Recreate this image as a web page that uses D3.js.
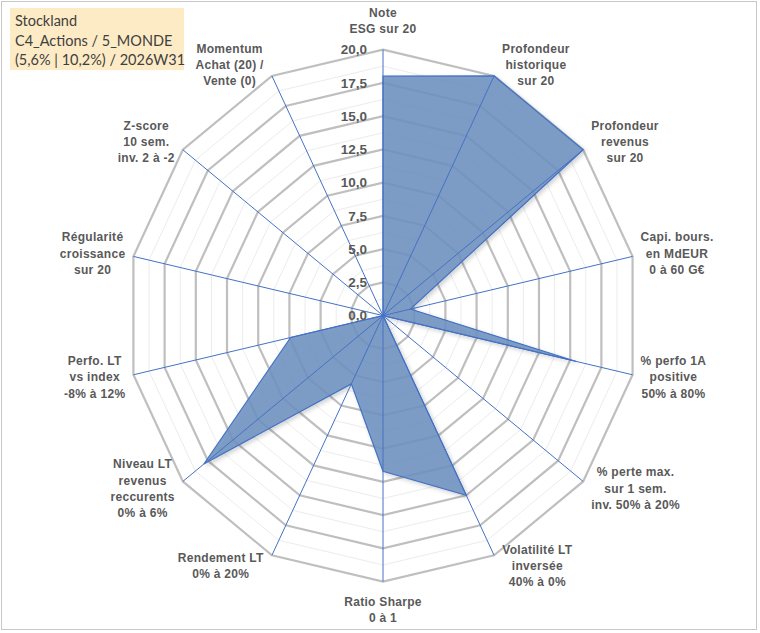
<!DOCTYPE html>
<html><head><meta charset="utf-8">
<script src="https://cdn.jsdelivr.net/npm/d3@7"></script>
<style>
html,body{margin:0;padding:0;background:#fff;}
svg{display:block;}
</style></head>
<body>
<svg id="chart" width="760" height="633"></svg>
<script>
// ---- data ----
const titleLines = ["Stockland", "C4_Actions / 5_MONDE", "(5,6% | 10,2%) / 2026W31"];
const categories = [
  ["Note", "ESG sur 20"],
  ["Profondeur", "historique", "sur 20"],
  ["Profondeur", "revenus", "sur 20"],
  ["Capi. bours.", "en MdEUR", "0 à 60 G€"],
  ["% perfo 1A", "positive", "50% à 80%"],
  ["% perte max.", "sur 1 sem.", "inv. 50% à 20%"],
  ["Volatilité LT", "inversée", "40% à 0%"],
  ["Ratio Sharpe", "0 à 1"],
  ["Rendement LT", "0% à 20%"],
  ["Niveau LT", "revenus", "reccurents", "0% à 6%"],
  ["Perfo. LT", "vs index", "-8% à 12%"],
  ["Régularité", "croissance", "sur 20"],
  ["Z-score", "10 sem.", "inv. 2 à -2"],
  ["Momentum", "Achat (20) /", "Vente (0)"]
];
const values = [18, 20, 20, 2.2, 15.5, 0, 15, 11.7, 5.7, 17.9, 7.4, 0, 0, 0];
const majorTicks = [0, 2.5, 5, 7.5, 10, 12.5, 15, 17.5, 20];
const tickLabels = ["0,0", "2,5", "5,0", "7,5", "10,0", "12,5", "15,0", "17,5", "20,0"];
const minorTicks = [1.25, 3.75, 6.25, 8.75, 11.25, 13.75, 16.25, 18.75];

// ---- layout ----
const svg = d3.select("#chart");
const cx = 383, cy = 315.6;
const rx = d3.scaleLinear().domain([0, 20]).range([0, 256]);
const ry = d3.scaleLinear().domain([0, 20]).range([0, 266]);
const n = categories.length;
const ang = d3.scaleLinear().domain([0, n]).range([0, 2 * Math.PI]);
const pt = (i, v) => [cx + rx(v) * Math.sin(ang(i)), cy - ry(v) * Math.cos(ang(i))];

// frame
svg.append("rect").attr("x", 1.5).attr("y", 1.5).attr("width", 755).attr("height", 628)
  .attr("fill", "#fff").attr("stroke", "#c8c8c8").attr("stroke-width", 1);

const defs = svg.append("defs");
const f = defs.append("filter").attr("id", "sh").attr("x", "-10%").attr("y", "-10%").attr("width", "130%").attr("height", "130%");
f.append("feDropShadow").attr("dx", 2).attr("dy", 2).attr("stdDeviation", 2).attr("flood-color", "#000").attr("flood-opacity", 0.2);

const ring = v => d3.range(n).map(i => pt(i, v));
const line = d3.line().curve(d3.curveLinearClosed);

// minor grid
svg.append("g").selectAll("path").data(minorTicks).join("path")
  .attr("d", v => line(ring(v))).attr("fill", "none")
  .attr("stroke", "#ececec").attr("stroke-width", 1);
// major grid
svg.append("g").selectAll("path").data(majorTicks.filter(v => v > 0)).join("path")
  .attr("d", v => line(ring(v))).attr("fill", "none")
  .attr("stroke", "#bfbfbf").attr("stroke-width", 2.2);

// series
svg.append("path").attr("d", line(values.map((v, i) => pt(i, v))))
  .attr("fill", "#6E92C0").attr("fill-opacity", 0.88)
  .attr("stroke", "#4472C4").attr("stroke-width", 1.2)
  .attr("filter", "url(#sh)");

// spokes
svg.append("g").selectAll("line").data(d3.range(n)).join("line")
  .attr("x1", cx).attr("y1", cy)
  .attr("x2", i => pt(i, 20)[0]).attr("y2", i => pt(i, 20)[1])
  .attr("stroke", "#4472C4").attr("stroke-width", 1);

// tick labels
svg.append("g").selectAll("text").data(majorTicks).join("text")
  .attr("x", cx - 16).attr("y", v => cy - ry(v)).attr("dy", "0.36em")
  .attr("text-anchor", "end")
  .attr("font-family", "Liberation Sans, Arial, sans-serif").attr("font-weight", "bold")
  .attr("font-size", 13.5).attr("fill", "#595959")
  .text((v, i) => tickLabels[i]);

// category labels
const lh = 16.3;
const lg = svg.append("g");
categories.forEach((lines, i) => {
  const [vx, vy] = pt(i, 20);
  const s = Math.sin(ang(i)), c = Math.cos(ang(i));
  const t = lg.append("text")
    .attr("font-family", "Liberation Sans, Arial, sans-serif").attr("font-weight", "bold")
    .attr("font-size", 12).attr("fill", "#595959").attr("text-anchor", "middle")
    .attr("letter-spacing", 0.3);
  lines.forEach((l, k) => t.append("tspan").attr("x", 0).attr("y", k * lh).text(l));
  const bb = t.node().getBBox();
  const w = bb.width, h = lines.length * lh;
  let x, yTop;
  if (Math.abs(s) < 0.1) {
    x = vx;
    yTop = c > 0 ? vy - 12 - h : vy + 12;
  } else {
    x = s > 0 ? vx + 8 + w / 2 : vx - 8 - w / 2;
    yTop = vy - 12 * c - h / 2;
  }
  t.attr("transform", `translate(${x},${yTop + 12})`);
});

// title box
const tg = svg.append("g");
tg.append("rect").attr("x", 10).attr("y", 8).attr("width", 174).attr("height", 62).attr("fill", "#FDEBC6");
tg.selectAll("text").data(titleLines).join("text")
  .attr("x", 15).attr("y", (d, i) => 26 + i * 19.5)
  .attr("font-family", "Lato, 'Open Sans', sans-serif").attr("font-size", 14.5)
  .attr("fill", "#404040").text(d => d);
</script>
</body></html>
